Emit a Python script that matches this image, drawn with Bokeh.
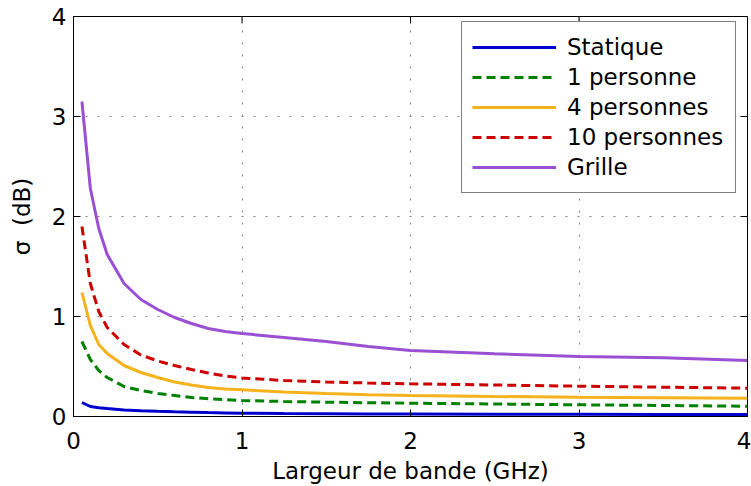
from bokeh.plotting import figure
from bokeh.models import Range1d, FixedTicker, Legend, LegendItem
from bokeh.embed import file_html
from bokeh.resources import INLINE

# ---- data ----
bandwidth = [0.05, 0.1, 0.15, 0.2, 0.3, 0.4, 0.5, 0.6, 0.7, 0.8, 0.9, 1.0,
             1.25, 1.5, 1.75, 2.0, 2.5, 3.0, 3.5, 4.0]
statique = [0.14, 0.10, 0.088, 0.079, 0.066, 0.058, 0.052, 0.047, 0.043, 0.039,
            0.036, 0.033, 0.030, 0.028, 0.026, 0.025, 0.023, 0.022, 0.021, 0.020]
une_personne = [0.75, 0.57, 0.46, 0.39, 0.30, 0.26, 0.23, 0.21, 0.19, 0.178,
                0.168, 0.16, 0.15, 0.143, 0.138, 0.133, 0.125, 0.117, 0.11, 0.103]
quatre_personnes = [1.24, 0.91, 0.72, 0.63, 0.51, 0.44, 0.39, 0.345, 0.315, 0.29,
                    0.275, 0.267, 0.245, 0.23, 0.218, 0.21, 0.20, 0.193, 0.188, 0.183]
dix_personnes = [1.90, 1.33, 1.05, 0.89, 0.72, 0.615, 0.555, 0.51, 0.47, 0.435,
                 0.405, 0.385, 0.36, 0.345, 0.335, 0.327, 0.315, 0.303, 0.293, 0.283]
grille = [3.15, 2.28, 1.88, 1.62, 1.33, 1.17, 1.07, 0.99, 0.93, 0.88,
          0.85, 0.83, 0.79, 0.75, 0.70, 0.66, 0.627, 0.60, 0.587, 0.56]

series_names = ["Statique", "1 personne", "4 personnes", "10 personnes", "Grille"]
series_values = [statique, une_personne, quatre_personnes, dix_personnes, grille]
series_colors = ["#0000CC", "#008000", "#F5B21C", "#CC0000", "#9B4FD3"]
series_dash = ["solid", "9 5", "solid", "9 5", "solid"]

x_ticks = [0, 1, 2, 3, 4]
y_ticks = [0, 1, 2, 3, 4]
x_min, x_max = 0, 4
y_min, y_max = 0, 4

FONT = "DejaVu Sans"
FS = "23px"

p = figure(width=751, height=486, output_backend="svg", toolbar_location=None,
           x_range=Range1d(x_min, x_max), y_range=Range1d(y_min, y_max),
           min_border_left=73, min_border_right=4, min_border_top=16, min_border_bottom=70)
p.background_fill_color = "white"
p.border_fill_color = "white"
p.outline_line_color = "black"
p.outline_line_width = 1

# dotted grid
for g, t in ((p.xgrid, x_ticks), (p.ygrid, y_ticks)):
    g.ticker = FixedTicker(ticks=t)
    g.grid_line_color = "#808080"
    g.grid_line_dash = "2 10"
    g.grid_line_width = 1

for ax, ticks in ((p.xaxis[0], x_ticks), (p.yaxis[0], y_ticks)):
    ax.ticker = FixedTicker(ticks=ticks)
    ax.axis_line_color = "black"
    ax.axis_line_width = 1
    ax.major_tick_in = 7
    ax.major_tick_out = 0
    ax.major_tick_line_color = "black"
    ax.minor_tick_line_color = None
    ax.major_label_text_font = FONT
    ax.major_label_text_font_size = FS
    ax.major_label_text_color = "black"
    ax.axis_label_text_font = FONT
    ax.axis_label_text_font_size = FS
    ax.axis_label_text_font_style = "normal"
    ax.axis_label_text_color = "black"

p.xaxis[0].major_label_standoff = 15
p.yaxis[0].major_label_standoff = 7
p.xaxis[0].axis_label = "Largeur de bande (GHz)"
p.yaxis[0].axis_label = "σ\u00a0\u00a0(dB)"
p.xaxis[0].axis_label_standoff = 6
p.yaxis[0].axis_label_standoff = 14

# inward ticks on the top and right edges of the box (from the tick lists)
tick_dx = 7 * (x_max - x_min) / 674
tick_dy = 7 * (y_max - y_min) / 400
p.segment(x0=x_ticks, y0=[y_max] * len(x_ticks), x1=x_ticks,
          y1=[y_max - tick_dy] * len(x_ticks), line_color="black", line_width=1)
p.segment(x0=[x_max] * len(y_ticks), y0=y_ticks, x1=[x_max - tick_dx] * len(y_ticks),
          y1=y_ticks, line_color="black", line_width=1)

items = []
for name, vals, col, dash in zip(series_names, series_values, series_colors, series_dash):
    r = p.line(bandwidth, vals, line_color=col, line_width=3, line_dash=dash)
    items.append(LegendItem(label=name, renderers=[r]))

legend = Legend(items=items, location=(388, 223), margin=0)
legend.padding = 10
legend.spacing = 0
legend.glyph_width = 84
legend.glyph_height = 30
legend.label_height = 30
legend.label_width = 158
legend.label_standoff = 11
legend.label_text_font = FONT
legend.label_text_font_size = FS
legend.label_text_color = "black"
legend.border_line_color = "black"
legend.border_line_width = 1
legend.background_fill_color = "white"
legend.background_fill_alpha = 1
p.add_layout(legend, "center")

open("out.html", "w").write(file_html(p, INLINE))
